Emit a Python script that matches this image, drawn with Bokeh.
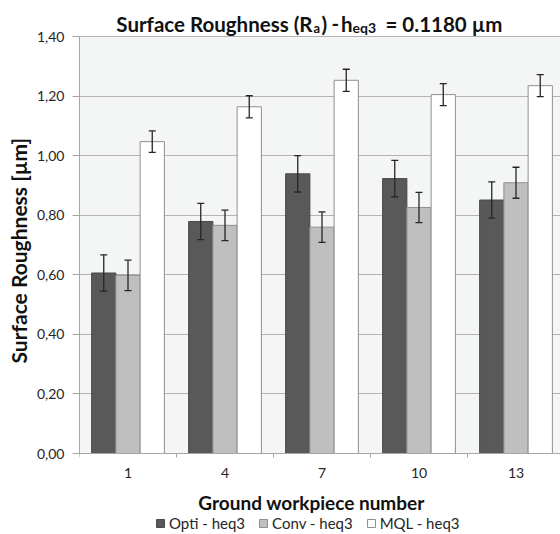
from bokeh.plotting import figure
from bokeh.models import (Range1d, FixedTicker, CustomJSTickFormatter, Whisker, TeeHead,
                          ColumnDataSource, Legend, LegendItem, Title, Label, BoxAnnotation)
from bokeh.embed import file_html
from bokeh.resources import INLINE

# ---- data ----
workpieces = ["1", "4", "7", "10", "13"]
series_names = ["Opti - heq3", "Conv - heq3", "MQL - heq3"]
opti = [0.606, 0.779, 0.939, 0.923, 0.851]
conv = [0.598, 0.766, 0.760, 0.826, 0.909]
mql = [1.047, 1.164, 1.253, 1.205, 1.235]
opti_err = [0.061, 0.061, 0.061, 0.061, 0.061]
conv_err = [0.051, 0.051, 0.051, 0.051, 0.052]
mql_err = [0.036, 0.037, 0.037, 0.037, 0.037]
y_ticks = [0.0, 0.2, 0.4, 0.6, 0.8, 1.0, 1.2, 1.4]

# ---- layout numbers (pixels) ----
W, H = 560, 534
FL, PT, PB = 79, 36, 453          # plot-area left / top / bottom in page pixels
XMIN = 0.5
XMAX = 0.5 + (W - FL) / 97.0
YMAX = 1.4
PXU = (PB - PT) / YMAX            # pixels per unit
YTOP = PB / PXU                   # frame covers the whole page height
YBOT = -(H - PB) / PXU


def dx(px):
    return XMIN + (px - FL) / 97.0


def dy(py):
    return (PB - py) / PXU


p = figure(width=W, height=H, x_range=Range1d(XMIN, XMAX), y_range=Range1d(YBOT, YTOP),
           output_backend="svg", toolbar_location=None,
           min_border_left=FL, min_border_right=0, min_border_top=0, min_border_bottom=0,
           background_fill_color="white", border_fill_color="white",
           outline_line_color=None)

# plot-area background (0 .. 1.40)
p.add_layout(BoxAnnotation(bottom=0, top=YMAX, fill_color="#f4f5f5", fill_alpha=1,
                           line_color=None, level="image"))

idx = list(range(1, len(workpieces) + 1))
bw = 0.25
styles = [("#595959", "#4a4a4a"), ("#bfbfbf", "#8f8f8f"), ("#ffffff", "#8f8f8f")]
values = [opti, conv, mql]
errs = [opti_err, conv_err, mql_err]
offsets = [-bw, 0.0, bw]

renderers = []
for vals, err, off, (fc, lc) in zip(values, errs, offsets, styles):
    xs = [i + off for i in idx]
    src = ColumnDataSource(dict(x=xs, top=vals,
                                upper=[v + e for v, e in zip(vals, err)],
                                lower=[v - e for v, e in zip(vals, err)]))
    r = p.vbar(x="x", top="top", width=bw, bottom=0, source=src,
               fill_color=fc, line_color=lc, line_width=1)
    renderers.append(r)
    wh = Whisker(source=src, base="x", upper="upper", lower="lower", dimension="height",
                 line_color="#262626", line_width=1.3, level="overlay",
                 upper_head=TeeHead(size=7, line_color="#262626", line_width=1.3),
                 lower_head=TeeHead(size=7, line_color="#262626", line_width=1.3))
    p.add_layout(wh)

# ---- axes ----
grey = "#a6a6a6"
p.xaxis.fixed_location = 0
p.xaxis.ticker = FixedTicker(ticks=idx, minor_ticks=[i + 0.5 for i in [0] + idx])
p.xaxis.formatter = CustomJSTickFormatter(args=dict(labels=workpieces),
                                          code="return labels[Math.round(tick) - 1];")
p.xaxis.major_tick_line_color = None
p.xaxis.major_tick_out = 0
p.xaxis.minor_tick_line_color = grey
p.xaxis.minor_tick_out = 4
p.xaxis.minor_tick_in = 0
p.xaxis.axis_line_color = grey
p.xaxis.major_label_text_font = "Lato"
p.xaxis.major_label_text_font_size = "14px"
p.xaxis.major_label_text_color = "#262626"
p.xaxis.major_label_standoff = 10

p.yaxis.ticker = FixedTicker(ticks=y_ticks)
p.yaxis.bounds = (0, YMAX)
p.yaxis.formatter = CustomJSTickFormatter(code="return tick.toFixed(2).replace('.', ',');")
p.yaxis.major_tick_out = 7
p.yaxis.major_tick_in = 0
p.yaxis.minor_tick_line_color = None
p.yaxis.major_tick_line_color = grey
p.yaxis.axis_line_color = grey
p.yaxis.major_label_text_font = "Lato"
p.yaxis.major_label_text_font_size = "14px"
p.yaxis.major_label_text_color = "#262626"
p.yaxis.major_label_standoff = 8

p.ygrid.ticker = FixedTicker(ticks=y_ticks)
p.ygrid.grid_line_color = "#b3b3b3"
p.xgrid.grid_line_color = None

# ---- y axis title (Title in the left panel, placed along the plot area) ----
ytitle = Title(text="Surface Roughness [µm]", align="left", offset=H - 363,
               text_font="Lato", text_font_style="bold", text_font_size="21px",
               text_color="#111111", standoff=6)
p.add_layout(ytitle, "left")


# ---- chart title pieces (with subscripts) and x-axis title, inside the frame ----
def lab(text, px, py, size, align="left"):
    p.add_layout(Label(x=dx(px), y=dy(py), text=text, text_font="Lato",
                       text_font_style="bold", text_font_size=size,
                       text_color="#111111", text_align=align,
                       text_baseline="alphabetic"))

lab("Surface Roughness (R", 312, 23, "20.5px", "right")
lab("a", 313, 27, "13px")
lab(")", 321, 23, "20.5px")
lab("-", 331, 23, "20.5px")
lab("h", 352, 23, "20.5px", "right")
lab("eq3", 352, 27, "14px")
lab("= 0.1180 µm", 385, 23, "20.5px")

lab("Ground workpiece number", 311, 502, "19px", "center")

# ---- legend ----
legend = Legend(items=[LegendItem(label=n, renderers=[r]) for n, r in zip(series_names, renderers)],
                orientation="horizontal", location=(155 - FL, 2),
                glyph_width=10, glyph_height=10, label_height=16,
                label_text_font="Lato", label_text_font_size="15px",
                label_text_color="#262626", label_standoff=4, spacing=13,
                padding=0, margin=0, background_fill_alpha=0, border_line_color=None)
p.add_layout(legend, "center")

open("out.html", "w").write(file_html(p, INLINE))
